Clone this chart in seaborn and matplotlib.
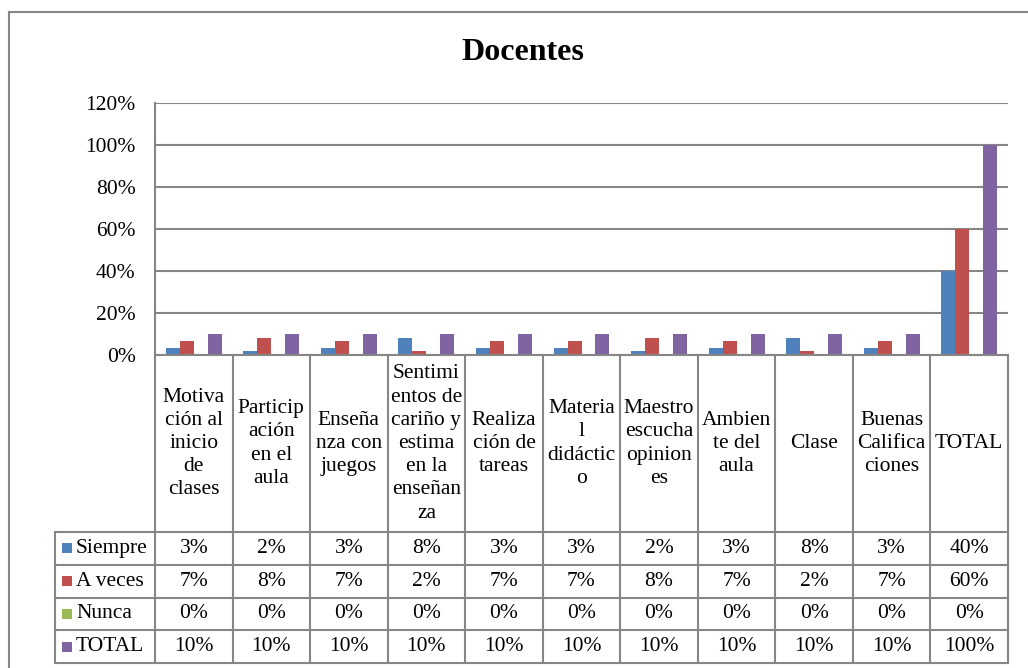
import matplotlib
matplotlib.use("Agg")
import matplotlib.pyplot as plt
import pandas as pd
import seaborn as sns
from matplotlib.lines import Line2D
from matplotlib.patches import Rectangle

categories = ["Motiva\nción al\ninicio\nde\nclases", "Particip\nación\nen el\naula",
              "Enseña\nnza con\njuegos",
              "Sentimi\nentos de\ncariño y\nestima\nen la\nenseñan\nza",
              "Realiza\nción de\ntareas", "Materia\nl\ndidáctic\no",
              "Maestro\nescucha\nopinion\nes", "Ambien\nte del\naula", "Clase",
              "Buenas\nCalifica\nciones", "TOTAL"]
series = ["Siempre", "A veces", "Nunca", "TOTAL"]
siempre = [3.3, 1.7, 3.3, 8.3, 3.3, 3.3, 1.7, 3.3, 8.3, 3.3, 40]
a_veces = [6.7, 8.3, 6.7, 1.7, 6.7, 6.7, 8.3, 6.7, 1.7, 6.7, 60]
nunca = [0, 0, 0, 0, 0, 0, 0, 0, 0, 0, 0]
total = [10, 10, 10, 10, 10, 10, 10, 10, 10, 10, 100]
colors = ["#4F81BD", "#C0504D", "#9BBB59", "#8064A2"]
yticks = [0, 20, 40, 60, 80, 100, 120]

values = [siempre, a_veces, nunca, total]
rows = []
for s, vals in zip(series, values):
    for c, v in zip(categories, vals):
        rows.append({"cat": c, "serie": s, "val": v})
df = pd.DataFrame(rows)

plt.rcParams["font.family"] = ["Liberation Serif", "DejaVu Serif"]
W, H = 1028, 668
GRAY = "#868686"
FS = 15.5


def fx(px):
    return px / W


def fy(py):
    return 1 - py / H


fig = plt.figure(figsize=(W / 100, H / 100), dpi=100)
ax = fig.add_axes([fx(155), fy(355), fx(1008) - fx(155), fy(103) - fy(355)])

sns.barplot(data=df, x="cat", y="val", hue="serie", palette=colors,
            width=0.72, saturation=1, legend=False, ax=ax)

ax.set_xlim(-0.5, len(categories) - 0.5)
ax.set_ylim(0, 120)
ax.set_yticks(yticks)
ax.set_yticklabels([f"{t}%" for t in yticks], fontsize=FS)
ax.tick_params(axis="y", length=0, pad=14)
ax.tick_params(axis="x", length=0, labelbottom=False)
ax.set_xlabel("")
ax.set_ylabel("")
ax.grid(axis="y", color=GRAY, linewidth=1.5)
ax.set_axisbelow(True)
for side in ["top", "right", "bottom"]:
    ax.spines[side].set_visible(False)
ax.spines["left"].set_color(GRAY)
ax.spines["left"].set_linewidth(1.5)

fig.text(fx(523), fy(52), "Docentes", fontsize=23, fontweight="bold",
         ha="center", va="center")

# outer chart border (left and top)
fig.add_artist(Line2D([fx(9), fx(9)], [fy(12), 0], color=GRAY, lw=1.5))
fig.add_artist(Line2D([fx(9), 1], [fy(12), fy(12)], color=GRAY, lw=1.5))

# data table
col_w = (1008 - 155) / len(categories)
edges = [155 + i * col_w for i in range(len(categories) + 1)]
row_y = [532, 564.75, 597.5, 630.25, 663]


def hline(x0, x1, y):
    fig.add_artist(Line2D([fx(x0), fx(x1)], [fy(y), fy(y)], color=GRAY, lw=1.5))


def vline(x, y0, y1):
    fig.add_artist(Line2D([fx(x), fx(x)], [fy(y0), fy(y1)], color=GRAY, lw=1.5))


hline(155, 1008, 355)
for y in row_y:
    hline(55, 1008, y)
for x in edges:
    vline(x, 355, 663)
vline(55, 532, 663)

for i, c in enumerate(categories):
    cx = (edges[i] + edges[i + 1]) / 2
    fig.text(fx(cx), fy(443.5), c, fontsize=FS, ha="center", va="center",
             multialignment="center", linespacing=1.3)

for r, (s, vals, col) in enumerate(zip(series, values, colors)):
    cy = (row_y[r] + row_y[r + 1]) / 2
    fig.add_artist(Rectangle((fx(62), fy(cy + 5)), fx(10), 10 / H,
                             facecolor=col, edgecolor="none"))
    fig.text(fx(76), fy(cy), s, fontsize=FS, ha="left", va="center")
    for i, v in enumerate(vals):
        cx = (edges[i] + edges[i + 1]) / 2
        fig.text(fx(cx), fy(cy), f"{v:.0f}%", fontsize=FS, ha="center", va="center")

plt.savefig("out.png", dpi=100)
